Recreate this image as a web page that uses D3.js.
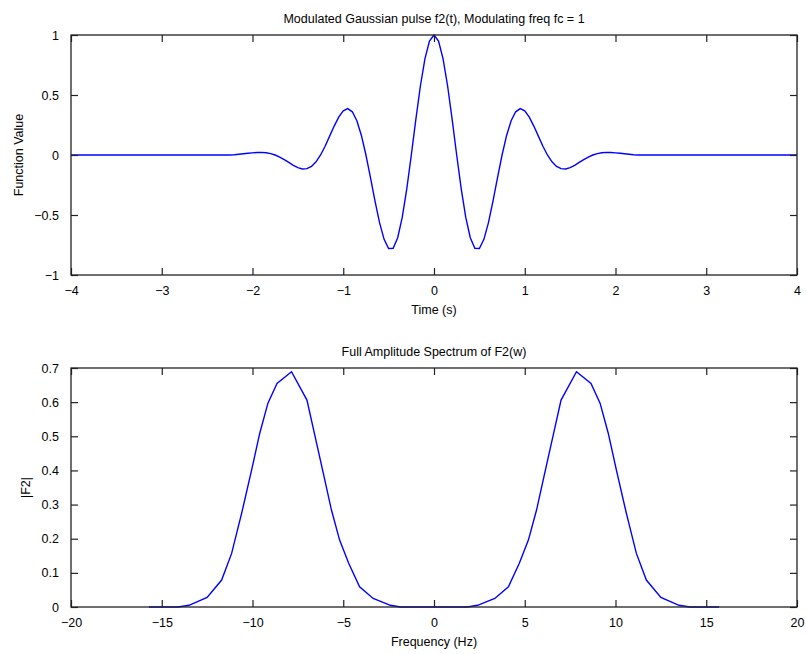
<!DOCTYPE html>
<html>
<head>
<meta charset="utf-8">
<script src="https://cdn.jsdelivr.net/npm/d3@7"></script>
<style>
  body { margin: 0; background: #fff; }
  svg text { font-family: "Liberation Sans", Arial, Helvetica, sans-serif; fill: #000; }
</style>
</head>
<body>
<svg id="fig" width="806" height="654"></svg>
<script>
// pulse f2(t)
var time = [-4, -2.5, -2.45, -2.4, -2.35, -2.3, -2.25, -2.2, -2.15, -2.1, -2.05, -2, -1.95, -1.9, -1.85, -1.8, -1.75, -1.7, -1.65, -1.6, -1.55,
  -1.5, -1.45, -1.4, -1.35, -1.3, -1.25, -1.2, -1.15, -1.1, -1.05, -1, -0.95, -0.9, -0.85, -0.8, -0.75, -0.7, -0.65, -0.6, -0.55,
  -0.5, -0.45, -0.4, -0.35, -0.3, -0.25, -0.2, -0.15, -0.1, -0.05, 0, 0.05, 0.1, 0.15, 0.2, 0.25, 0.3, 0.35, 0.4, 0.45,
  0.5, 0.55, 0.6, 0.65, 0.7, 0.75, 0.8, 0.85, 0.9, 0.95, 1, 1.05, 1.1, 1.15, 1.2, 1.25, 1.3, 1.35, 1.4, 1.45,
  1.5, 1.55, 1.6, 1.65, 1.7, 1.75, 1.8, 1.85, 1.9, 1.95, 2, 2.05, 2.1, 2.15, 2.2, 2.25, 2.3, 2.35, 2.4, 2.45, 2.5, 4];
var pulse = [0, 0, 0, 0, 0, 0, 0, 0.002, 0.006, 0.01, 0.014, 0.018, 0.021, 0.022, 0.019, 0.012, 0, -0.017, -0.039, -0.062, -0.086,
  -0.105, -0.116, -0.114, -0.095, -0.057, 0, 0.073, 0.157, 0.241, 0.316, 0.368, 0.386, 0.36, 0.285, 0.163, 0, -0.189, -0.385, -0.564, -0.703,
  -0.779, -0.777, -0.689, -0.52, -0.282, 0, 0.297, 0.575, 0.801, 0.949, 1, 0.949, 0.801, 0.575, 0.297, 0, -0.282, -0.52, -0.689, -0.777,
  -0.779, -0.703, -0.564, -0.385, -0.189, 0, 0.163, 0.285, 0.36, 0.386, 0.368, 0.316, 0.241, 0.157, 0.073, 0, -0.057, -0.095, -0.114, -0.116,
  -0.105, -0.086, -0.062, -0.039, -0.017, 0, 0.012, 0.019, 0.022, 0.021, 0.018, 0.014, 0.01, 0.006, 0.002, 0, 0, 0, 0, 0, 0, 0];

// spectrum |F2|
var freq = [-15.7, -14.1, -13.5, -12.5, -11.7, -11.15, -10.6, -10.05, -9.6, -9.15, -8.65, -7.85, -7.0, -6.55, -6.1, -5.65, -5.2, -4.7, -4.1, -3.35, -2.4, -1.85,
  1.85, 2.4, 3.35, 4.1, 4.7, 5.2, 5.65, 6.1, 6.55, 7.0, 7.85, 8.65, 9.15, 9.6, 10.05, 10.6, 11.15, 11.7, 12.5, 13.5, 14.1, 15.7];
var mag = [0, 0, 0.005, 0.028, 0.079, 0.157, 0.274, 0.401, 0.509, 0.597, 0.655, 0.689, 0.606, 0.499, 0.392, 0.284, 0.196, 0.128, 0.059, 0.025, 0.005, 0,
  0, 0.005, 0.025, 0.059, 0.128, 0.196, 0.284, 0.392, 0.499, 0.606, 0.689, 0.655, 0.597, 0.509, 0.401, 0.274, 0.157, 0.079, 0.028, 0.005, 0, 0];

var ticksTime = [-4, -3, -2, -1, 0, 1, 2, 3, 4];
var ticksPulse = [-1, -0.5, 0, 0.5, 1];
var ticksFreq = [-20, -15, -10, -5, 0, 5, 10, 15, 20];
var ticksMag = [0, 0.1, 0.2, 0.3, 0.4, 0.5, 0.6, 0.7];

var svg = d3.select('#fig');
var left = 71, right = 797;
var tickLen = 7;
var fmt = d3.format('~g');

var draw_panel = function(opt) {
    var x = d3.scaleLinear().domain(opt.xdom).range([left, right]);
    var y = d3.scaleLinear().domain(opt.ydom).range([opt.bottom, opt.top]);
    var g = svg.append('g');

    var line = d3.line().x(function(d) { return x(d[0]); }).y(function(d) { return y(d[1]); });
    g.append('path')
        .attr('d', line(d3.zip(opt.xs, opt.ys)))
        .attr('fill', 'none')
        .attr('stroke', '#0000ff')
        .attr('stroke-width', 1.4);

    // matlab style ticks: inside, on all four sides
    var tickStyle = function(sel) {
        sel.select('.domain').remove();
        sel.selectAll('.tick line').attr('stroke', '#222').attr('stroke-width', 1.2);
        sel.selectAll('.tick text').attr('font-size', 12.5);
    };
    g.append('g').attr('transform', 'translate(0,' + opt.bottom + ')')
        .call(d3.axisBottom(x).tickValues(opt.xticks).tickFormat(fmt).tickSizeInner(-tickLen).tickPadding(11))
        .call(tickStyle);
    g.append('g').attr('transform', 'translate(0,' + opt.top + ')')
        .call(d3.axisTop(x).tickValues(opt.xticks).tickSizeInner(-tickLen).tickFormat(''))
        .call(tickStyle);
    g.append('g').attr('transform', 'translate(' + left + ',0)')
        .call(d3.axisLeft(y).tickValues(opt.yticks).tickFormat(fmt).tickSizeInner(-tickLen).tickPadding(12))
        .call(tickStyle);
    g.append('g').attr('transform', 'translate(' + right + ',0)')
        .call(d3.axisRight(y).tickValues(opt.yticks).tickSizeInner(-tickLen).tickFormat(''))
        .call(tickStyle);

    g.append('rect')
        .attr('x', left).attr('y', opt.top)
        .attr('width', right - left).attr('height', opt.bottom - opt.top)
        .attr('fill', 'none').attr('stroke', '#222').attr('stroke-width', 1.3);

    g.append('text').attr('x', (left + right) / 2).attr('y', opt.top - 12)
        .attr('text-anchor', 'middle').attr('font-size', 12.5).text(opt.title);
    g.append('text').attr('x', (left + right) / 2).attr('y', opt.bottom + 39)
        .attr('text-anchor', 'middle').attr('font-size', 12.5).text(opt.xlabel);
    g.append('text')
        .attr('transform', 'translate(' + opt.ylabelX + ',' + ((opt.top + opt.bottom) / 2) + ') rotate(-90)')
        .attr('text-anchor', 'middle').attr('font-size', 12.5).text(opt.ylabel);
};

draw_panel({
    xs: time, ys: pulse, xdom: [-4, 4], ydom: [-1, 1],
    xticks: ticksTime, yticks: ticksPulse, top: 35, bottom: 275,
    title: 'Modulated Gaussian pulse f2(t), Modulating freq fc = 1',
    xlabel: 'Time (s)', ylabel: 'Function Value', ylabelX: 23
});
draw_panel({
    xs: freq, ys: mag, xdom: [-20, 20], ydom: [0, 0.7],
    xticks: ticksFreq, yticks: ticksMag, top: 368, bottom: 607,
    title: 'Full Amplitude Spectrum of F2(w)',
    xlabel: 'Frequency (Hz)', ylabel: '|F2|', ylabelX: 30
});
</script>
</body>
</html>
